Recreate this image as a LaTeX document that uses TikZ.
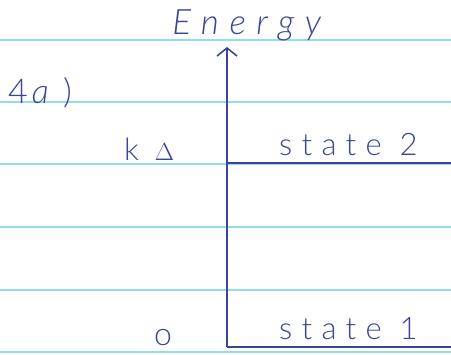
\documentclass[tikz,border=0pt]{standalone}
\usepackage{fontspec}
\setmainfont{Lato}
\newfontfamily\hand[LetterSpace=30]{Lato Light}
\usetikzlibrary{arrows.meta}
\definecolor{ink}{HTML}{3A4599}
\definecolor{rule}{HTML}{95DCEB}
\tikzset{
  ruled/.style={draw=rule, line width=1.2pt},
  inkline/.style={draw=ink, line width=1.6pt},
  label/.style={text=ink, inner sep=0pt, font=\hand\fontsize{31}{31}\selectfont},
}
\begin{document}
\begin{tikzpicture}[x=1pt,y=-1pt]
\useasboundingbox (0,0) rectangle (451,355);
\fill[white] (0,0) rectangle (451,355);
% ruled paper lines
\foreach \yy in {40,102,164,227,290,352} \draw[ruled] (0,\yy) -- (451,\yy);
% axis and levels
\coordinate (origin) at (227,347);
\coordinate (top) at (227,47);
\coordinate (s2l) at (227,163);
\coordinate (s2r) at (451,163);
\coordinate (s1r) at (451,347);
\draw[inkline, -{Straight Barb[length=8pt,width=20pt]}] (origin) -- (top);
\draw[inkline] (s2l) -- (s2r);
\draw[inkline] (origin) -- (s1r);
% labels
\node[label, anchor=base, font=\hand\fontsize{35}{35}\selectfont] (energy) at (252,35) {\textit{Energy}};
\node[label, anchor=base west, font=\hand\fontsize{34}{34}\selectfont] (q) at (8,104) {4\hspace{4pt}\textit{a}\hspace{4pt})};
\node[label, anchor=base west] (kd) at (124,161) {k\hspace{16pt}{\fontsize{24}{24}\selectfont$\Delta$}};
\node[label, anchor=base west] (st2) at (279,156) {state 2};
\node[label, anchor=base, font=\hand\fontsize{32}{32}\selectfont] (zero) at (163,346) {o};
\node[label, anchor=base west] (st1) at (279,340) {state 1};
\end{tikzpicture}
\end{document}
